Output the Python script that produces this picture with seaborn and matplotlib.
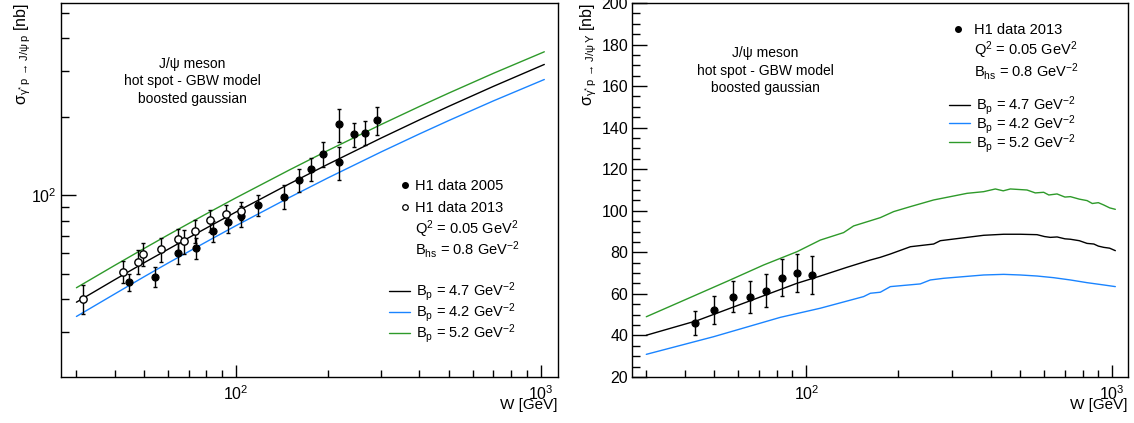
import matplotlib
matplotlib.use("Agg")
import matplotlib.pyplot as plt
import seaborn as sns
from matplotlib.lines import Line2D
from matplotlib.ticker import LogLocator, NullFormatter, LogFormatterMathtext, MultipleLocator

# ---------------- data: left panel (log-log) ----------------
W_curve_L = [30, 40, 50, 60, 70, 85, 100, 150, 200, 300, 400, 500, 700, 1028]
sig_L_47 = [38.9, 47.4, 55.1, 62.1, 68.7, 77.8, 86.2, 110.7, 131.3, 165.8, 194.5, 219.4, 261.6, 317.4]
sig_L_42 = [34.3, 41.8, 48.7, 55.0, 60.8, 68.9, 76.4, 98.1, 116.4, 146.7, 171.8, 193.5, 230.1, 277.9]
sig_L_52 = [44.2, 53.8, 62.5, 70.5, 77.9, 88.2, 97.7, 125.1, 148.3, 186.9, 218.9, 246.6, 293.5, 354.9]

W_2005 = [44.5, 54.5, 64.4, 74.3, 84.3, 94.4, 104.1, 118.6, 144.0, 161.6, 176.6, 193.8, 218.7, 218.7, 243.8, 266.0, 291.3]
sig_2005 = [46.3, 48.8, 60.1, 63.0, 73.0, 79.0, 83.1, 91.8, 98.8, 114.4, 126.1, 143.6, 187.1, 133.8, 171.3, 173.7, 194.3]
err_2005 = [3.5, 4.5, 5.7, 5.8, 6.7, 7.2, 7.6, 8.5, 10.4, 11.4, 12.9, 15.8, 27.0, 19.4, 18.0, 18.5, 24.0]

W_2013 = [31.6, 42.8, 47.6, 49.7, 56.8, 64.7, 67.8, 73.4, 82.4, 92.7, 103.8]
sig_2013 = [40.1, 51.0, 55.7, 59.7, 62.1, 67.8, 66.6, 72.8, 80.2, 84.8, 87.3]
err_2013 = [5.1, 5.0, 6.0, 6.0, 6.7, 6.7, 7.2, 7.3, 7.9, 6.8, 7.0]

# ---------------- data: right panel (log-x, linear y) ----------------
W_R_47 = [30, 43.9, 56.4, 72.5, 93.2, 111.1, 135.8, 161.9, 174.5, 188.2, 218.8, 260.6, 274.1,
          318.7, 379.8, 441.5, 500.3, 567.5, 600, 627.1, 660, 700, 729.2, 780, 826.7, 870, 900,
          936.9, 980, 1022.8]
sig_R_47 = [40.1, 47.1, 53.1, 59.1, 65.1, 68.6, 72.8, 76.3, 77.6, 79.2, 82.7, 84.0, 85.6,
            86.8, 88.2, 88.7, 88.7, 88.5, 87.6, 87.2, 87.4, 86.5, 86.3, 85.6, 84.3, 84.0, 83.0,
            82.4, 82.0, 80.8]
W_R_42 = [30, 49.8, 82.2, 111.1, 153.9, 161.9, 174.5, 188.2, 235.7, 254.2, 281.0, 326.6, 379.8,
          441.5, 500.3, 567.5, 643.0, 729.2, 826.7, 936.9, 1022.8]
sig_R_42 = [30.9, 39.4, 48.7, 53.1, 58.7, 60.3, 60.8, 63.5, 64.8, 66.7, 67.5, 68.3, 69.1,
            69.4, 69.1, 68.6, 67.8, 66.7, 65.4, 64.3, 63.5]
W_R_52 = [30, 38.8, 56.4, 72.5, 93.2, 111.1, 132.4, 142.7, 161.9, 174.5, 192.9, 218.8, 260.6,
          295.6, 335.1, 379.8, 414.7, 440, 464.2, 526.2, 560, 596.5, 620, 659.6, 700, 729.2,
          780, 826.7, 860, 900, 936.9, 980, 1022.8]
sig_R_52 = [49.0, 56.2, 66.7, 73.9, 80.3, 85.9, 89.5, 92.7, 95.2, 96.7, 99.6, 102.0, 105.2,
            106.8, 108.4, 109.2, 110.5, 109.6, 110.5, 110.0, 108.6, 108.9, 107.6, 108.1, 106.6, 106.8,
            105.6, 104.9, 103.5, 103.9, 102.8, 101.4, 100.7]

W_R_data = [43.2, 50.0, 57.4, 65.3, 74.0, 83.3, 93.2, 104.4]
sig_R_data = [46.1, 52.1, 58.7, 58.7, 61.5, 67.8, 69.9, 68.9]
err_R_data = [5.9, 6.7, 7.6, 7.7, 8.0, 8.8, 9.2, 9.1]

labels_model = ["B$_{p}$ = 4.7 GeV$^{-2}$", "B$_{p}$ = 4.2 GeV$^{-2}$", "B$_{p}$ = 5.2 GeV$^{-2}$"]
colors_model = ["black", "#1a84ff", "#2e9a2a"]
text_lines = ["J/\u03c8 meson", "hot spot - GBW model", "boosted gaussian"]
text_q2 = "Q$^{2}$ = 0.05 GeV$^{2}$"
text_bhs = "B$_{hs}$ = 0.8 GeV$^{-2}$"

# ---------------- style ----------------
sns.set_theme(style="ticks")
plt.rcParams['font.family'] = ['Liberation Sans', 'DejaVu Sans']
plt.rcParams['mathtext.fontset'] = 'custom'
plt.rcParams['mathtext.rm'] = 'Liberation Sans'
plt.rcParams['mathtext.it'] = 'Liberation Sans'
plt.rcParams['mathtext.sf'] = 'Liberation Sans'
plt.rcParams['mathtext.default'] = 'regular'
plt.rcParams['axes.edgecolor'] = 'black'
plt.rcParams['axes.linewidth'] = 1.0
plt.rcParams['text.color'] = 'black'
plt.rcParams['axes.labelcolor'] = 'black'
plt.rcParams['xtick.color'] = 'black'
plt.rcParams['ytick.color'] = 'black'

fig = plt.figure(figsize=(11.34, 4.23), dpi=100)
axL = fig.add_axes([61 / 1134, 46 / 423, 497 / 1134, 374 / 423])
axR = fig.add_axes([632.3 / 1134, 46 / 423, 495.7 / 1134, 374 / 423])

# ---------------- left panel ----------------
for sc, col in zip([sig_L_47, sig_L_42, sig_L_52], colors_model):
    sns.lineplot(x=W_curve_L, y=sc, ax=axL, color=col, lw=1.0, legend=False, estimator=None, sort=False)

axL.errorbar(W_2005, sig_2005, yerr=err_2005, fmt='none', ecolor='black', elinewidth=1.0, capsize=1.5, capthick=1.0)
axL.errorbar(W_2013, sig_2013, yerr=err_2013, fmt='none', ecolor='black', elinewidth=1.0, capsize=1.5, capthick=1.0)
sns.scatterplot(x=W_2005, y=sig_2005, ax=axL, color='black', s=26, edgecolor='black', linewidth=0.8, zorder=5)
sns.scatterplot(x=W_2013, y=sig_2013, ax=axL, color='white', s=28, edgecolor='black', linewidth=1.0, zorder=5)

axL.set_xscale('log')
axL.set_yscale('log')
axL.set_xlim(26.7, 1140)
axL.set_ylim(20.1, 546)

# ---------------- right panel ----------------
for Wc, sc, col in zip([W_R_47, W_R_42, W_R_52], [sig_R_47, sig_R_42, sig_R_52], colors_model):
    sns.lineplot(x=Wc, y=sc, ax=axR, color=col, lw=1.0, legend=False, estimator=None, sort=False)
axR.errorbar(W_R_data, sig_R_data, yerr=err_R_data, fmt='none', ecolor='black', elinewidth=1.0, capsize=1.5, capthick=1.0)
sns.scatterplot(x=W_R_data, y=sig_R_data, ax=axR, color='black', s=26, edgecolor='black', linewidth=0.8, zorder=5)
axR.set_xscale('log')
axR.set_xlim(27, 1125)
axR.set_ylim(20, 200)
axR.yaxis.set_major_locator(MultipleLocator(20))
axR.yaxis.set_minor_locator(MultipleLocator(5))

for ax in (axL, axR):
    ax.xaxis.set_major_locator(LogLocator(base=10, numticks=10))
    ax.xaxis.set_minor_locator(LogLocator(base=10, subs=range(2, 10), numticks=20))
    ax.xaxis.set_major_formatter(LogFormatterMathtext())
    ax.xaxis.set_minor_formatter(NullFormatter())
    ax.tick_params(axis='both', which='both', direction='in', top=False, right=False,
                   labelsize=11.5, width=1.0, colors='black')
    ax.tick_params(axis='x', which='major', length=8.5, pad=5)
    ax.tick_params(axis='x', which='minor', length=5)
    ax.tick_params(axis='y', which='major', length=10.5, pad=3)
    ax.tick_params(axis='y', which='minor', length=5.5)
    for sp in ax.spines.values():
        sp.set_visible(True)
        sp.set_color('black')
        sp.set_linewidth(1.0)
    ax.set_xlabel("W [GeV]", loc='right', fontsize=11, labelpad=-3.5)

axL.yaxis.set_major_locator(LogLocator(base=10, numticks=10))
axL.yaxis.set_minor_locator(LogLocator(base=10, subs=range(2, 10), numticks=20))
axL.yaxis.set_major_formatter(LogFormatterMathtext())
axL.yaxis.set_minor_formatter(NullFormatter())

axL.set_ylabel(r"$\sigma_{\gamma^{*}\,p\,\rightarrow\,J/\psi\,p}$ [nb]", loc='top', fontsize=11.5)
axR.set_ylabel(r"$\sigma_{\gamma^{*}\,p\,\rightarrow\,J/\psi\,\Upsilon}$ [nb]", loc='top', fontsize=11.5)
axL.yaxis.set_label_coords(-0.056, 1.0)
axR.yaxis.set_label_coords(-0.067, 1.0)

# ---------------- annotations ----------------
for ax, xc, ys in [(axL, 0.2636, [0.838, 0.792, 0.742]), (axR, 0.269, [0.866, 0.819, 0.774])]:
    for t, yy in zip(text_lines, ys):
        ax.text(xc, yy, t, transform=ax.transAxes, ha='center', va='center', fontsize=10)

FS = 10.5

# left: data-marker legend, parameter text, model-line legend
hL_data = [Line2D([], [], linestyle='none', marker='o', color='black', markersize=4),
           Line2D([], [], linestyle='none', marker='o', markerfacecolor='white',
                  markeredgecolor='black', markersize=4, markeredgewidth=0.9)]
legL1 = axL.legend(hL_data, ["H1 data 2005", "H1 data 2013"], loc='center left',
                   bbox_to_anchor=(0.683, 0.481), frameon=False, fontsize=FS,
                   handlelength=0.6, handletextpad=0.4, labelspacing=0.5,
                   borderpad=0, borderaxespad=0)
axL.add_artist(legL1)
axL.text(0.7123, 0.3824, text_q2, transform=axL.transAxes, ha='left', va='baseline', fontsize=FS)
axL.text(0.7123, 0.3262, text_bhs, transform=axL.transAxes, ha='left', va='baseline', fontsize=FS)
hL_lines = [Line2D([], [], color=c, lw=1.0) for c in colors_model]
legL2 = axL.legend(hL_lines, labels_model, loc='center left', bbox_to_anchor=(0.6606, 0.1714),
                   frameon=False, fontsize=FS, handlelength=1.4, handletextpad=0.4,
                   labelspacing=-0.13, borderpad=0, borderaxespad=0)

# right
hR_data = [Line2D([], [], linestyle='none', marker='o', color='black', markersize=4)]
legR1 = axR.legend(hR_data, ["H1 data 2013"], loc='center left', bbox_to_anchor=(0.637, 0.9283),
                   frameon=False, fontsize=FS, handlelength=1.4, handletextpad=0.4,
                   borderpad=0, borderaxespad=0)
axR.add_artist(legR1)
axR.text(0.690, 0.8618, text_q2, transform=axR.transAxes, ha='left', va='baseline', fontsize=FS)
axR.text(0.690, 0.8022, text_bhs, transform=axR.transAxes, ha='left', va='baseline', fontsize=FS)
hR_lines = [Line2D([], [], color=c, lw=1.0) for c in colors_model]
legR2 = axR.legend(hR_lines, labels_model, loc='center left', bbox_to_anchor=(0.6395, 0.675),
                   frameon=False, fontsize=FS, handlelength=1.4, handletextpad=0.4,
                   labelspacing=-0.3, borderpad=0, borderaxespad=0)

fig.savefig("out.png", dpi=100)
